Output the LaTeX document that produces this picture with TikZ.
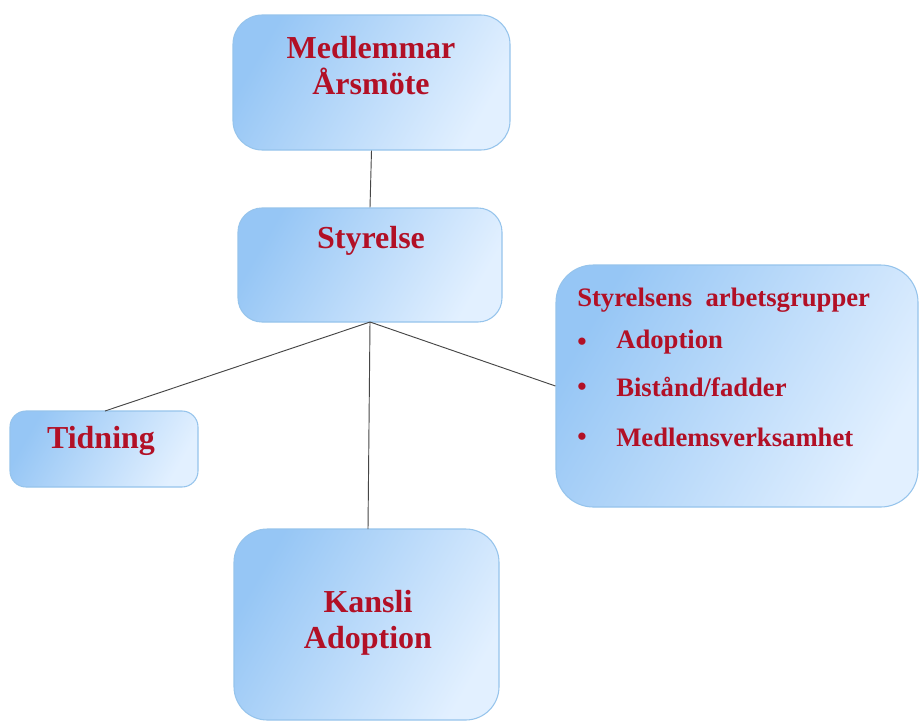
\documentclass[tikz,border=0pt]{standalone}
\usepackage{fontspec}
\setmainfont{Liberation Serif}
\definecolor{txtred}{RGB}{178,16,38}
\definecolor{boxdark}{RGB}{150,198,245}
\definecolor{boxlight}{RGB}{226,240,255}
\definecolor{boxedge}{RGB}{150,196,236}
\definecolor{linegray}{RGB}{70,70,70}
\begin{document}
\begin{tikzpicture}[x=0.75pt,y=-0.75pt,
  box/.style={draw=boxedge, line width=0.8pt, top color=boxdark, bottom color=boxlight, shading angle=60, inner sep=0pt},
  lbl/.style={text=txtred, font=\bfseries\fontsize{24}{26}\selectfont, align=center, inner sep=0pt},
  lst/.style={text=txtred, font=\bfseries\fontsize{20}{22}\selectfont, inner sep=0pt, anchor=west},
  conn/.style={draw=linegray, line width=0.7pt}]
\useasboundingbox (0,0) rectangle (920,722);
\fill[white] (0,0) rectangle (920,722);
% boxes
\node[box, rounded corners=22pt, minimum width=277*0.75pt, minimum height=135*0.75pt] (med) at (371.5,82.5) {};
\node[box, rounded corners=18pt, minimum width=264*0.75pt, minimum height=114*0.75pt] (sty) at (370,265) {};
\node[box, rounded corners=28pt, minimum width=362*0.75pt, minimum height=242*0.75pt] (arb) at (737,386) {};
\node[box, rounded corners=12pt, minimum width=188*0.75pt, minimum height=76*0.75pt] (tid) at (104,449) {};
\node[box, rounded corners=25pt, minimum width=265*0.75pt, minimum height=191*0.75pt] (kan) at (366.5,624.5) {};
% connectors
\coordinate (sb) at (370,322);
\draw[conn] (med.south) -- (sty.north);
\draw[conn] (sb) -- (105,411) coordinate (tt);
\draw[conn] (sb) -- (368,529) coordinate (kt);
\draw[conn] (sb) -- (arb.west);
% texts
\node[lbl] (medt) at (371,66) {Medlemmar\\[1pt]Årsmöte};
\node[lbl] (styt) at (371,241) {Styrelse};
\node[lbl] (tidt) at (101,441) {Tidning};
\node[lbl] (kant) at (368,623) {Kansli\\[1pt]Adoption};
\node[lst] (arbt) at (577,300) {Styrelsens\ \ arbetsgrupper};
\node[lst] (b1) at (577,344) {\textbullet};
\node[lst] (l1) at (616,342) {Adoption};
\node[lst] (b2) at (577,389) {\textbullet};
\node[lst] (l2) at (616,387) {Bistånd/fadder};
\node[lst] (b3) at (577,439) {\textbullet};
\node[lst] (l3) at (616,437) {Medlemsverksamhet};
\end{tikzpicture}
\end{document}
